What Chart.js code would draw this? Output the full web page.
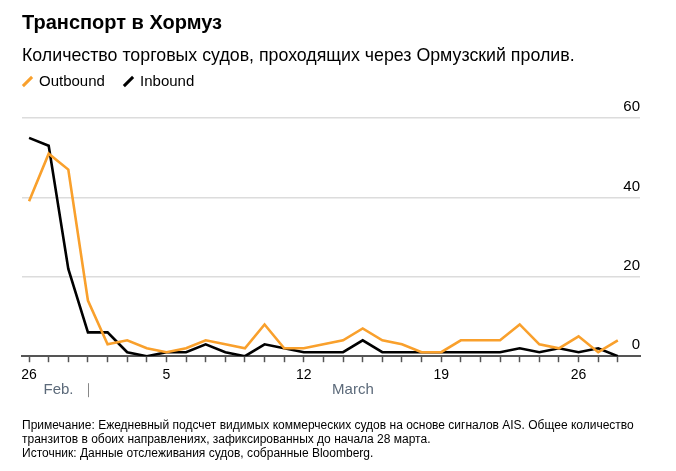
<!DOCTYPE html>
<html>
<head>
<meta charset="utf-8">
<script src="https://cdn.jsdelivr.net/npm/chart.js@4.4.1/dist/chart.umd.min.js"></script>
<style>
    body { margin: 0; background: #fff; font-family: "Liberation Sans", Arial, sans-serif; }
    #wrap { position: relative; width: 676px; height: 471px; overflow: hidden; }
    #chartBox { position: absolute; left: 0; top: 0; width: 676px; height: 471px; }
    .txt { position: absolute; left: 22px; color: #000; white-space: nowrap; }
    #title { top: 11px; font-size: 20px; font-weight: bold; }
    #subtitle { top: 45px; font-size: 17.8px; }
    #legend { top: 72px; font-size: 15px; }
    #legend span.item { margin-right: 14px; }
    #legend i { display: inline-block; width: 3px; height: 13px; transform: rotate(45deg); margin: 0 10px -2px 4px; }
    #note { top: 418px; font-size: 12px; line-height: 14px; }
</style>
</head>
<body>
<div id="wrap">
    <div id="chartBox"><canvas id="chart"></canvas></div>
    <div class="txt" id="title">Транспорт в Хормуз</div>
    <div class="txt" id="subtitle">Количество торговых судов, проходящих через Ормузский пролив.</div>
    <div class="txt" id="legend">
        <span class="item"><i style="background:#f9a02c"></i>Outbound</span>
        <span class="item"><i style="background:#000"></i>Inbound</span>
    </div>
    <div class="txt" id="note">Примечание: Ежедневный подсчет видимых коммерческих судов на основе сигналов AIS. Общее количество<br>транзитов в обоих направлениях, зафиксированных до начала 28 марта.<br>Источник: Данные отслеживания судов, собранные Bloomberg.</div>
</div>
<script>
// Days from Feb 26 to Mar 28
const days = ['26', '27', '28', '1', '2', '3', '4', '5', '6', '7', '8', '9', '10', '11', '12', '13',
    '14', '15', '16', '17', '18', '19', '20', '21', '22', '23', '24', '25', '26', '27', '28'];
const labeledDays = [0, 7, 14, 21, 28];
const yTicks = [0, 20, 40, 60];
const months = [
    { name: 'Feb.', from: 0, to: 3 },
    { name: 'March', from: 3, to: 30 }
];

const outbound = [39, 51, 47, 14, 3, 4, 2, 1, 2, 4, 3, 2, 8, 2, 2, 3,
    4, 7, 4, 3, 1, 1, 4, 4, 4, 8, 3, 2, 5, 1, 4];
const inbound = [55, 53, 22, 6, 6, 1, 0, 1, 1, 3, 1, 0, 3, 2, 1, 1,
    1, 4, 1, 1, 1, 1, 1, 1, 1, 2, 1, 2, 1, 2, 0];

const toPoints = arr => arr.map((v, i) => ({ x: i, y: v }));

// Month names under the day labels
const monthPlugin = {
    id: 'months',
    afterDraw(chart) {
        const ctx = chart.ctx;
        const x = chart.scales.x;
        const y = chart.chartArea.bottom + 34;
        ctx.save();
        ctx.font = '15px "Liberation Sans", Arial, sans-serif';
        ctx.fillStyle = '#5c6a7a';
        ctx.textAlign = 'center';
        ctx.textBaseline = 'middle';
        months.forEach(m => {
            const cx = (x.getPixelForValue(m.from) + x.getPixelForValue(m.to)) / 2;
            ctx.fillText(m.name, cx, y);
        });
        // separator at the start of March
        const sx = Math.round(x.getPixelForValue(months[1].from)) + 0.5;
        ctx.strokeStyle = '#888';
        ctx.lineWidth = 1;
        ctx.beginPath();
        ctx.moveTo(sx, y - 7);
        ctx.lineTo(sx, y + 7);
        ctx.stroke();
        ctx.restore();
    }
};

new Chart(document.getElementById('chart'), {
    type: 'line',
    data: {
        datasets: [
            {
                label: 'Outbound',
                data: toPoints(outbound),
                borderColor: '#f9a02c',
                borderWidth: 2.6,
                pointRadius: 0,
                tension: 0
            },
            {
                label: 'Inbound',
                data: toPoints(inbound),
                borderColor: '#000',
                borderWidth: 2.6,
                pointRadius: 0,
                tension: 0
            }
        ]
    },
    options: {
        responsive: true,
        maintainAspectRatio: false,
        animation: false,
        layout: { padding: { left: 22, right: 36, top: 118, bottom: 82 } },
        plugins: {
            legend: { display: false },
            tooltip: { enabled: false }
        },
        scales: {
            x: {
                type: 'linear',
                min: -0.36,
                max: 31.13,
                afterBuildTicks: scale => {
                    scale.ticks = days.map((d, i) => ({ value: i }));
                },
                border: { display: true, color: '#555', width: 2 },
                grid: {
                    drawOnChartArea: false,
                    drawTicks: true,
                    tickLength: 6,
                    tickColor: '#555',
                    tickWidth: 1.5
                },
                ticks: {
                    autoSkip: false,
                    maxRotation: 0,
                    padding: 5,
                    color: '#000',
                    font: { size: 14, family: '"Liberation Sans", Arial, sans-serif' },
                    callback: (v) => labeledDays.includes(v) ? days[v] : ''
                }
            },
            y: {
                position: 'right',
                min: 0,
                max: 60,
                afterBuildTicks: scale => {
                    scale.ticks = yTicks.map(v => ({ value: v }));
                },
                border: { display: false },
                grid: {
                    drawTicks: false,
                    color: ctx => ctx.tick && ctx.tick.value === 0 ? 'rgba(0,0,0,0)' : '#dcdcdc',
                    lineWidth: 1.5
                },
                ticks: {
                    mirror: true,
                    padding: 0,
                    labelOffset: -11,
                    color: '#000',
                    font: { size: 15, family: '"Liberation Sans", Arial, sans-serif' }
                }
            }
        }
    },
    plugins: [monthPlugin]
});
</script>
</body>
</html>
